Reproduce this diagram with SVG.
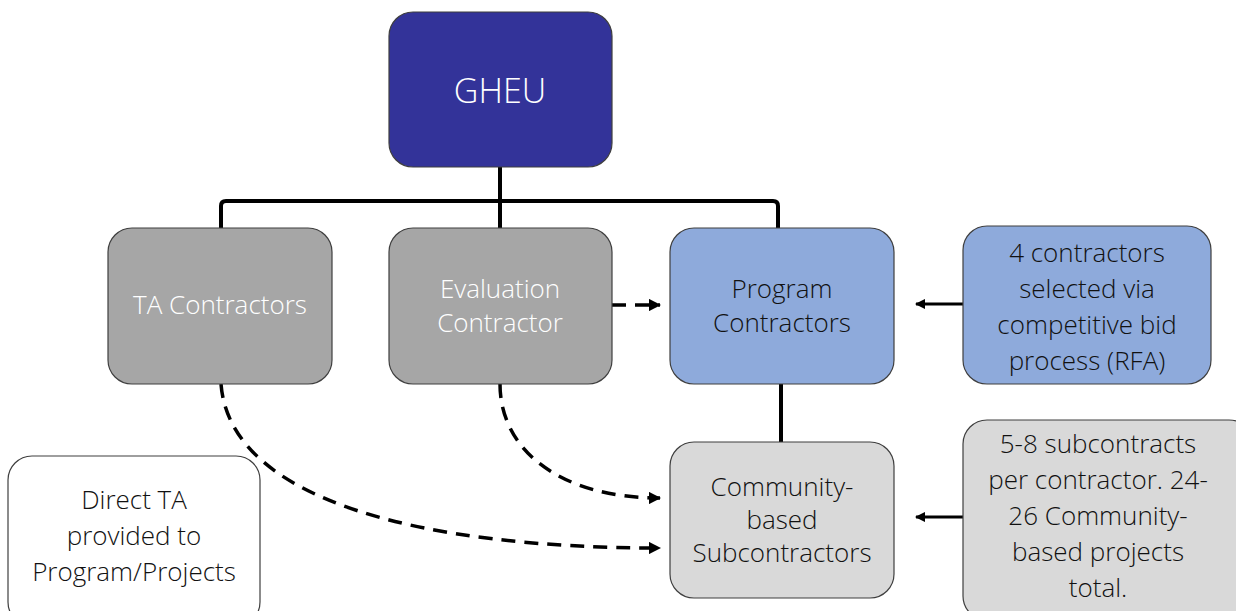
<svg xmlns="http://www.w3.org/2000/svg" width="1236" height="611" viewBox="0 0 1236 611">
<style>
.box{stroke:#3f3f3f;stroke-width:1.2}
.t{font-family:"Open Sans","Noto Sans",sans-serif;font-size:26px;text-anchor:middle;font-weight:300}
.w{fill:#ffffff}
.d{fill:#111111}
.c{fill:none;stroke:#000;stroke-width:4}
.dash{fill:none;stroke:#000;stroke-width:3.5;stroke-dasharray:14 9}
.thin{fill:none;stroke:#000;stroke-width:3}
</style>
<defs>
<marker id="ah" viewBox="0 0 10 10" refX="9" refY="5" markerWidth="3.5" markerHeight="3.5" orient="auto" markerUnits="strokeWidth">
<path d="M0,0 L10,5 L0,10 z" fill="#000"/>
</marker>
</defs>
<rect width="1236" height="611" fill="#ffffff"/>
<g id="connectors">
<path class="c" d="M221,228 V206 Q221,201 226,201 H773 Q778,201 778,206 V228"/>
<path class="c" d="M500,167 V228"/>
<path class="c" d="M781,384 V442"/>
<path class="dash" d="M612,305 H660" marker-end="url(#ah)"/>
<path class="dash" d="M500,384 C500,450 560,498 660,498" marker-end="url(#ah)"/>
<path class="dash" d="M221,384 C230,500 420,548 660,548" marker-end="url(#ah)"/>
<path class="thin" d="M963,304 H916" marker-end="url(#ah)"/>
<path class="thin" d="M963,517 H916" marker-end="url(#ah)"/>
</g>
<g id="gheu">
<rect class="box" x="389" y="12" width="223" height="155" rx="24" fill="#333399"/>
<text class="t w" x="500" y="103" style="font-size:34px">GHEU</text>
</g>
<g id="ta">
<rect class="box" x="108" y="228" width="224" height="156" rx="24" fill="#a6a6a6"/>
<text class="t w" x="220" y="314">TA Contractors</text>
</g>
<g id="eval">
<rect class="box" x="389" y="228" width="223" height="156" rx="24" fill="#a6a6a6"/>
<text class="t w" x="500" y="298">Evaluation</text>
<text class="t w" x="500" y="332">Contractor</text>
</g>
<g id="program">
<rect class="box" x="670" y="228" width="224" height="156" rx="24" fill="#8eaadb"/>
<text class="t d" x="782" y="298">Program</text>
<text class="t d" x="782" y="332">Contractors</text>
</g>
<g id="rfa">
<rect class="box" x="963" y="226" width="248" height="158" rx="24" fill="#8eaadb"/>
<text class="t d" x="1087" y="262">4 contractors</text>
<text class="t d" x="1087" y="298">selected via</text>
<text class="t d" x="1087" y="334">competitive bid</text>
<text class="t d" x="1087" y="370">process (RFA)</text>
</g>
<g id="community">
<rect class="box" x="670" y="442" width="224" height="156" rx="24" fill="#d9d9d9"/>
<text class="t d" x="782" y="496">Community-</text>
<text class="t d" x="782" y="529">based</text>
<text class="t d" x="782" y="562">Subcontractors</text>
</g>
<g id="subcontracts">
<rect class="box" x="963" y="420" width="290" height="200" rx="24" fill="#d9d9d9"/>
<text class="t d" x="1098" y="453">5-8 subcontracts</text>
<text class="t d" x="1098" y="489">per contractor. 24-</text>
<text class="t d" x="1098" y="525">26 Community-</text>
<text class="t d" x="1098" y="561">based projects</text>
<text class="t d" x="1098" y="597">total.</text>
</g>
<g id="direct">
<rect class="box" x="8" y="456" width="252" height="170" rx="24" fill="#ffffff"/>
<text class="t d" x="134" y="509">Direct TA</text>
<text class="t d" x="134" y="545">provided to</text>
<text class="t d" x="134" y="581">Program/Projects</text>
</g>
</svg>
